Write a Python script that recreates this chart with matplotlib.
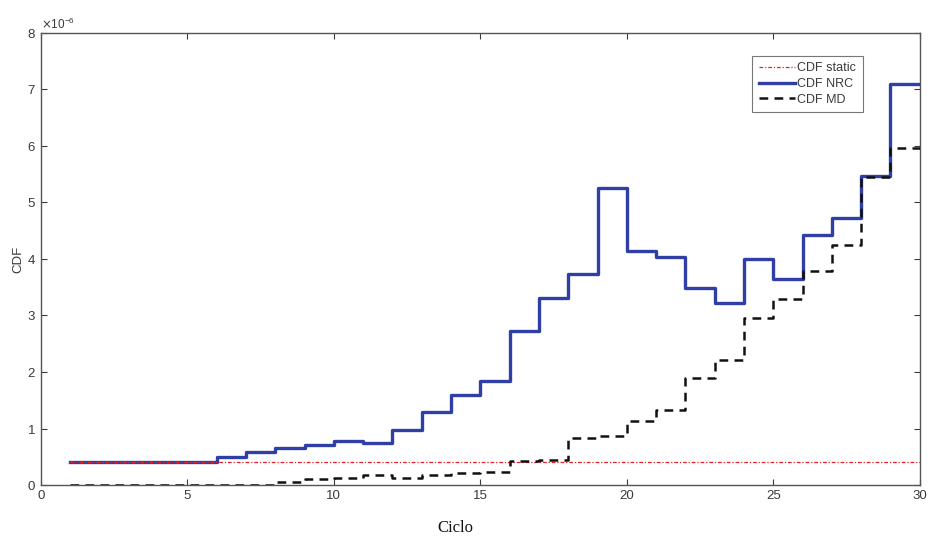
import matplotlib
matplotlib.use("Agg")
import matplotlib.pyplot as plt
from matplotlib.ticker import ScalarFormatter

# cycle index and cumulative damage curves (values in units of 1e-6)
ciclo = list(range(1, 31))
cdf_static = [0.40] * 30
cdf_nrc = [0.40, 0.40, 0.40, 0.40, 0.40, 0.49, 0.58, 0.65, 0.70, 0.77,
           0.74, 0.97, 1.30, 1.60, 1.84, 2.73, 3.31, 3.73, 5.26, 4.15,
           4.04, 3.49, 3.23, 4.00, 3.65, 4.42, 4.72, 5.47, 7.09, 7.09]
cdf_md = [0.0, 0.0, 0.0, 0.0, 0.0, 0.0, 0.0, 0.05, 0.10, 0.13,
          0.18, 0.13, 0.18, 0.21, 0.23, 0.42, 0.44, 0.84, 0.86, 1.13,
          1.33, 1.90, 2.21, 2.95, 3.30, 3.78, 4.24, 5.45, 5.96, 5.96]
scale = 1e-6

plt.rcParams['font.family'] = ['Liberation Sans', 'DejaVu Sans']
txt = '#3a3a3a'

fig = plt.figure(figsize=(9.3, 5.38), dpi=100)
ax = fig.add_axes([0.044, 0.0985, 0.945, 0.8402])

ax.step(ciclo, [v * scale for v in cdf_static], where='post', color='#e8202a',
        lw=0.9, ls=(0, (3, 1.5, 1, 1.5)), label='CDF static', zorder=3)
ax.step(ciclo, [v * scale for v in cdf_nrc], where='post', color='#2f3fa5',
        lw=2.4, label='CDF NRC', zorder=2)
ax.step(ciclo, [v * scale for v in cdf_md], where='post', color='#111111',
        lw=1.8, ls=(0, (3.5, 2.5)), label='CDF MD', zorder=4)

ax.set_xlim(0, 30)
ax.set_ylim(0, 8e-6)
ax.set_xticks(range(0, 31, 5))
ax.set_yticks([i * 1e-6 for i in range(9)])

fmt = ScalarFormatter(useMathText=True)
fmt.set_powerlimits((0, 0))
ax.yaxis.set_major_formatter(fmt)
ax.yaxis.get_offset_text().set_fontsize(8.5)
ax.yaxis.get_offset_text().set_color(txt)

ax.tick_params(direction='in', length=4, width=0.8, labelsize=9.5,
               colors=txt, top=True, right=True)
for s in ax.spines.values():
    s.set_color('#555555')
    s.set_linewidth(1.0)

ax.set_ylabel('CDF', fontsize=9.5, color=txt)
ax.yaxis.set_label_coords(-0.019, 0.5)
fig.text(455 / 930, 1 - 528 / 538, 'Ciclo', family='Liberation Serif',
         fontsize=12, ha='center', va='center', color='#111111')

leg = ax.legend(loc='upper right', bbox_to_anchor=(0.942, 0.963), fontsize=9,
                frameon=True, fancybox=False, handlelength=2.9,
                handletextpad=0.2, borderpad=0.5, labelspacing=0.3)
leg.get_frame().set_edgecolor('#555555')
leg.get_frame().set_linewidth(0.8)
for t in leg.get_texts():
    t.set_color(txt)

fig.savefig('out.png', dpi=100)
